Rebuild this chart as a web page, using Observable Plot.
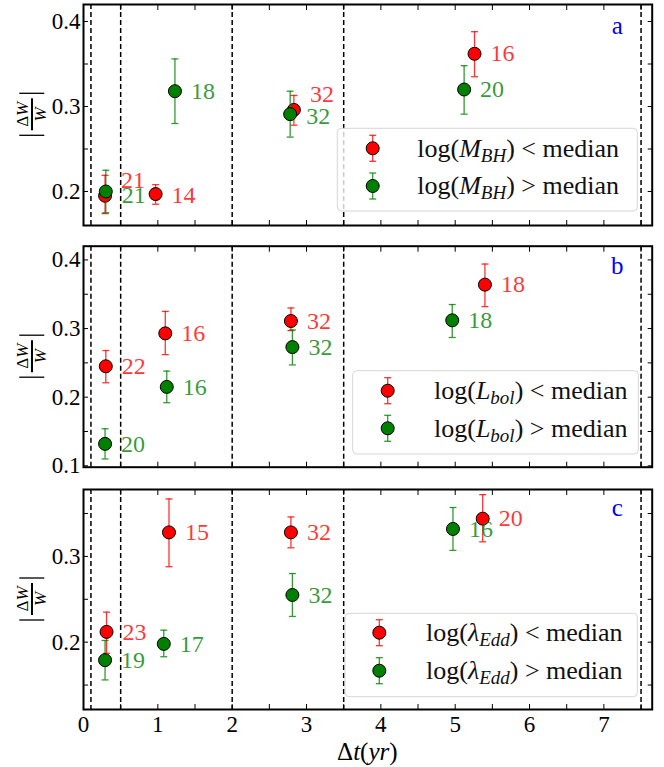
<!DOCTYPE html>
<html><head><meta charset="utf-8">
<script src="https://cdn.jsdelivr.net/npm/d3@7"></script>
<script src="https://cdn.jsdelivr.net/npm/@observablehq/plot@0.6"></script>
<style>
body{margin:0;background:#fff;}
#chart svg{display:block;}
#chart svg, #chart svg text, #chart svg tspan { font-family: "Liberation Serif", "Times New Roman", Times, "DejaVu Serif", serif !important; }
</style>
</head><body><div id="chart"></div>
<script>
// ---------- data ----------
const xTicks = [0, 0.5, 1, 1.5, 2, 2.5, 3, 3.5, 4, 4.5, 5, 5.5, 6, 6.5, 7, 7.5];
const dashX = [0.1, 0.5, 2, 3.5, 7.5];
const yTicksA = [0.2, 0.25, 0.3, 0.35, 0.4];
const yTicksB = [0.1, 0.15, 0.2, 0.25, 0.3, 0.35, 0.4];
const yTicksC = [0.15, 0.2, 0.25, 0.3, 0.35];
const panelLetters = ["a", "b", "c"];
const legendVar = ["M", "L", "λ"];
const legendSub = ["BH", "bol", "Edd"];

// panel a : log(M_BH)
const aRedX = [0.29, 0.97, 2.83, 5.26];
const aRedY = [0.195, 0.197, 0.296, 0.362];
const aRedLo = [0.174, 0.185, 0.278, 0.335];
const aRedHi = [0.219, 0.208, 0.313, 0.388];
const aRedN = [21, 14, 32, 16];
const aRedLabY = [0.213, 0.195, 0.314, 0.362];
const aGreenX = [0.30, 1.23, 2.78, 5.12];
const aGreenY = [0.200, 0.318, 0.291, 0.320];
const aGreenLo = [0.175, 0.280, 0.264, 0.291];
const aGreenHi = [0.225, 0.356, 0.318, 0.348];
const aGreenN = [21, 18, 32, 20];
const aGreenLabY = [0.196, 0.318, 0.289, 0.320];

// panel b : log(L_bol)
const bRedX = [0.30, 1.10, 2.79, 5.40];
const bRedY = [0.245, 0.293, 0.311, 0.364];
const bRedLo = [0.221, 0.262, 0.297, 0.332];
const bRedHi = [0.268, 0.325, 0.330, 0.394];
const bRedN = [22, 16, 32, 18];
const bGreenX = [0.29, 1.12, 2.81, 4.96];
const bGreenY = [0.132, 0.215, 0.273, 0.312];
const bGreenLo = [0.110, 0.192, 0.247, 0.287];
const bGreenHi = [0.154, 0.238, 0.298, 0.335];
const bGreenN = [20, 16, 32, 18];

// panel c : log(lambda_Edd)
const cRedX = [0.31, 1.15, 2.79, 5.37];
const cRedY = [0.212, 0.328, 0.328, 0.344];
const cRedLo = [0.187, 0.288, 0.310, 0.317];
const cRedHi = [0.235, 0.367, 0.346, 0.372];
const cRedN = [23, 15, 32, 20];
const cGreenX = [0.29, 1.08, 2.81, 4.97];
const cGreenY = [0.179, 0.198, 0.255, 0.332];
const cGreenLo = [0.156, 0.183, 0.230, 0.307];
const cGreenHi = [0.202, 0.214, 0.280, 0.357];
const cGreenN = [19, 17, 32, 16];

// ---------- helpers ----------
const FONT = "Liberation Serif, Times New Roman, DejaVu Serif, serif";
const RED = "#ff0000", GREEN = "#008000";
function rows(x, y, lo, hi, n, labY) {
  return x.map((d, i) => ({x: d, y: y[i], lo: lo[i], hi: hi[i], n: String(n[i]), ly: labY ? labY[i] : y[i]}));
}
const capSymbol = {draw(ctx, size) { const r = Math.sqrt(size / Math.PI); ctx.moveTo(-r, 0); ctx.lineTo(r, 0); }};
const fmtY = d => Math.abs(d * 10 - Math.round(d * 10)) < 1e-6 ? d.toFixed(1) : "";
const fmtX = d => Number.isInteger(d) ? String(d) : "";

function seriesMarks(data, color) {
  return [
    Plot.ruleX(data, {x: "x", y1: "lo", y2: "hi", stroke: color, strokeOpacity: 0.8, strokeWidth: 1.3}),
    Plot.dot(data, {x: "x", y: "lo", symbol: capSymbol, r: 3.5, stroke: color, strokeOpacity: 0.8, strokeWidth: 1.3}),
    Plot.dot(data, {x: "x", y: "hi", symbol: capSymbol, r: 3.5, stroke: color, strokeOpacity: 0.8, strokeWidth: 1.3}),
    Plot.dot(data, {x: "x", y: "y", r: 6.5, fill: color, stroke: "black", strokeWidth: 1})
  ];
}
function labelMarks(data, color) {
  return Plot.text(data, {x: "x", y: "ly", text: "n", dx: 16, textAnchor: "start", lineAnchor: "middle",
    fill: color, fillOpacity: 0.8, fontSize: 24});
}

function panel(o) {
  const red = o.red, green = o.green;
  const svg = Plot.plot({
    width: 664, height: o.h,
    marginLeft: 83, marginRight: 12.3, marginTop: o.mt, marginBottom: o.mb,
    style: {fontFamily: FONT, fontSize: "23px", color: "black", background: "white", overflow: "visible"},
    x: {domain: [0, 7.65]},
    y: {domain: o.yDomain},
    marks: [
      Plot.ruleX(dashX, {strokeDasharray: "5,3", strokeWidth: 1.5}),
      ...seriesMarks(red, RED),
      ...seriesMarks(green, GREEN),
      labelMarks(red, RED),
      labelMarks(green, GREEN),
      Plot.axisX(xTicks, {anchor: "bottom", tickSize: -5, tickPadding: 11, tickFormat: o.showX ? fmtX : () => "", label: null, fontSize: 23}),
      Plot.axisX(xTicks, {anchor: "top", tickSize: -5, tickFormat: () => "", label: null}),
      Plot.axisY(o.yTicks, {anchor: "left", tickSize: -5, tickPadding: 8, tickFormat: fmtY, label: null, fontSize: 23}),
      Plot.axisY(o.yTicks, {anchor: "right", tickSize: -5, tickFormat: () => "", label: null}),
      Plot.text([o.letter], {frameAnchor: "top-right", text: d => d, dx: -35, dy: o.letterDy, textAnchor: "middle", lineAnchor: "middle", fill: "#0000ff", fontSize: 25}),
      Plot.frame({strokeWidth: 2})
    ]
  });
  const s = d3.select(svg);
  // y label |ΔW/W|
  const yl = s.append("g").attr("transform", `translate(32,${o.yLabelCy}) rotate(-90)`)
    .attr("font-family", FONT).attr("fill", "black");
  yl.append("text").attr("x", 0).attr("y", -4).attr("text-anchor", "middle").attr("font-size", 17)
    .call(t => { t.append("tspan").text("Δ"); t.append("tspan").attr("font-style", "italic").text("W"); });
  yl.append("text").attr("x", 0).attr("y", 14).attr("text-anchor", "middle").attr("font-size", 17)
    .attr("font-style", "italic").text("W");
  yl.append("line").attr("x1", -16).attr("x2", 16).attr("y1", 0).attr("y2", 0).attr("stroke", "black").attr("stroke-width", 2);
  [-21, 21].forEach(px => yl.append("line").attr("x1", px).attr("x2", px).attr("y1", -12.7).attr("y2", 12.3)
    .attr("stroke", "black").attr("stroke-width", 1.3));
  // legend
  const L = o.legend;
  const g = s.append("g").attr("font-family", FONT).attr("text-anchor", "start");
  g.append("rect").attr("x", L.x0).attr("y", L.y0).attr("width", L.x1 - L.x0).attr("height", L.y1 - L.y0)
    .attr("rx", 4).attr("fill", "white").attr("fill-opacity", 0.8).attr("stroke", "#d6d6d6").attr("stroke-width", 1);
  [[RED, "<", L.r1], [GREEN, ">", L.r2]].forEach(([c, op, ry]) => {
    g.append("line").attr("x1", L.mx).attr("x2", L.mx).attr("y1", ry - 13).attr("y2", ry + 13)
      .attr("stroke", c).attr("stroke-opacity", 0.8).attr("stroke-width", 1.3);
    [ry - 13, ry + 13].forEach(cy => g.append("line").attr("x1", L.mx - 3.5).attr("x2", L.mx + 3.5).attr("y1", cy).attr("y2", cy)
      .attr("stroke", c).attr("stroke-opacity", 0.8).attr("stroke-width", 1.3));
    g.append("circle").attr("cx", L.mx).attr("cy", ry).attr("r", 6.5).attr("fill", c).attr("stroke", "black");
    const t = g.append("text").attr("x", L.tx).attr("y", ry).attr("dy", "0.32em").attr("font-size", 26)
      .attr("text-anchor", "start").attr("fill", "#111");
    t.append("tspan").text("log(");
    t.append("tspan").attr("font-style", "italic").text(o.varName);
    t.append("tspan").attr("font-style", "italic").attr("font-size", 19).attr("dy", 5).text(o.sub);
    t.append("tspan").attr("dy", -5).text(") " + op + " median");
  });
  if (o.showX) {
    const xl = s.append("text").attr("x", (83 + 651.7) / 2).attr("y", o.h - 15).attr("dy", "0.32em")
      .attr("text-anchor", "middle").attr("font-family", FONT).attr("font-size", 25).attr("fill", "black");
    xl.append("tspan").text("Δ");
    xl.append("tspan").attr("font-style", "italic").text("t");
    xl.append("tspan").text("(");
    xl.append("tspan").attr("font-style", "italic").text("yr");
    xl.append("tspan").text(")");
  }
  return svg;
}

const chart = document.getElementById("chart");
chart.append(panel({
  h: 230, mt: 4, mb: 5, yDomain: [0.16, 0.42], yTicks: yTicksA, showX: false, letter: panelLetters[0], letterDy: 21,
  red: rows(aRedX, aRedY, aRedLo, aRedHi, aRedN, aRedLabY),
  green: rows(aGreenX, aGreenY, aGreenLo, aGreenHi, aGreenN, aGreenLabY),
  yLabelCy: 114.3, varName: legendVar[0], sub: legendSub[0],
  legend: {x0: 337.3, x1: 637.3, y0: 128.3, y1: 211, mx: 372.7, tx: 417.3, r1: 148.3, r2: 186}
}));
chart.append(panel({
  h: 240, mt: 15.7, mb: 3.3, yDomain: [0.098, 0.42], yTicks: yTicksB, showX: false, letter: panelLetters[1], letterDy: 20,
  red: rows(bRedX, bRedY, bRedLo, bRedHi, bRedN),
  green: rows(bGreenX, bGreenY, bGreenLo, bGreenHi, bGreenN),
  yLabelCy: 126.2, varName: legendVar[1], sub: legendSub[1],
  legend: {x0: 352.7, x1: 638.3, y0: 140.7, y1: 224, mx: 387.7, tx: 434, r1: 160.7, r2: 198.3}
}));
chart.append(panel({
  h: 297, mt: 19, mb: 58, yDomain: [0.1215, 0.378], yTicks: yTicksC, showX: true, letter: panelLetters[2], letterDy: 18,
  red: rows(cRedX, cRedY, cRedLo, cRedHi, cRedN),
  green: rows(cGreenX, cGreenY, cGreenLo, cGreenHi, cGreenN),
  yLabelCy: 129, varName: legendVar[2], sub: legendSub[2],
  legend: {x0: 345, x1: 637.3, y0: 143.3, y1: 226.7, mx: 379.3, tx: 426, r1: 162.7, r2: 200.7}
}));
</script></body></html>
